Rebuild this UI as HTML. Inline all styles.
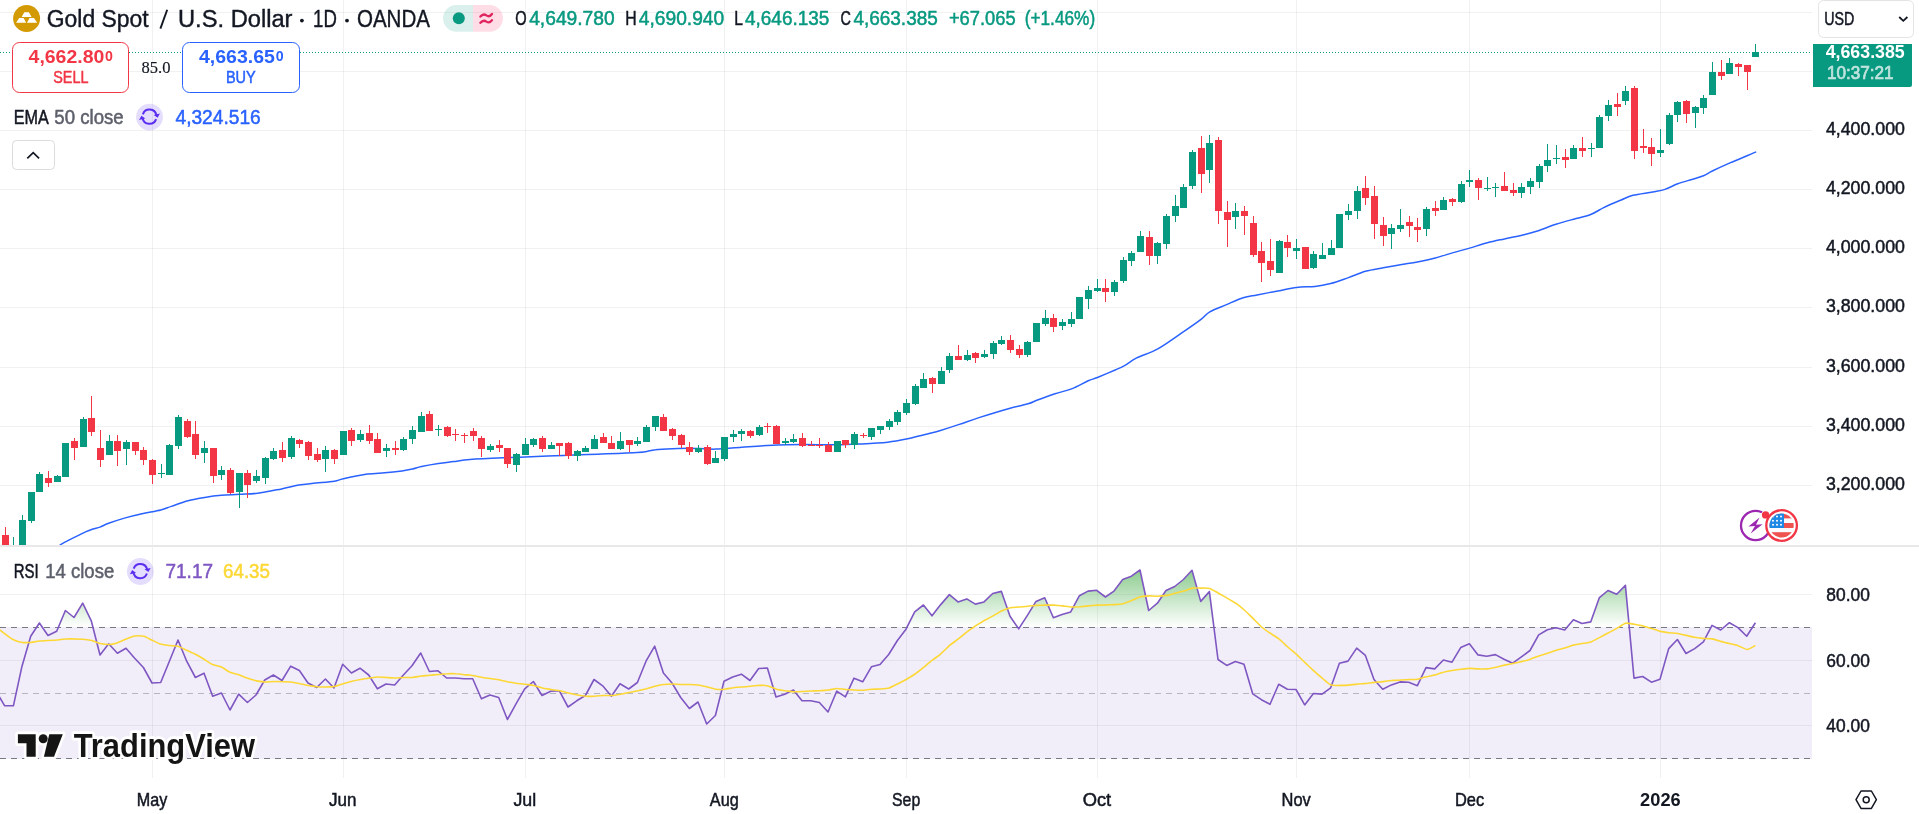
<!DOCTYPE html>
<html><head><meta charset="utf-8"><title>XAUUSD</title><style>html,body{margin:0;padding:0;background:#fff;overflow:hidden}body{width:1919px;height:814px;font-family:"Liberation Sans",sans-serif}</style></head><body><div style="will-change:transform;transform:translateZ(0)">
<svg width="1919" height="814" viewBox="0 0 1919 814" style="display:block;font-family:'Liberation Sans',sans-serif">
<defs>
<clipPath id="cm"><rect x="0" y="0" width="1812" height="545"/></clipPath>
<clipPath id="cr"><rect x="0" y="547" width="1812" height="231"/></clipPath>
<linearGradient id="gg" gradientUnits="userSpaceOnUse" x1="0" y1="560" x2="0" y2="627"><stop offset="0" stop-color="#4caf50" stop-opacity="0.75"/><stop offset="1" stop-color="#4caf50" stop-opacity="0"/></linearGradient>
<clipPath id="c70"><rect x="0" y="547" width="1812" height="80"/></clipPath>
</defs>
<rect width="1919" height="814" fill="#fff"/>
<g shape-rendering="crispEdges" fill="#000" fill-opacity="0.055">
<rect x="152" y="0" width="1" height="545"/>
<rect x="152" y="547" width="1" height="231"/>
<rect x="343" y="0" width="1" height="545"/>
<rect x="343" y="547" width="1" height="231"/>
<rect x="525" y="0" width="1" height="545"/>
<rect x="525" y="547" width="1" height="231"/>
<rect x="724" y="0" width="1" height="545"/>
<rect x="724" y="547" width="1" height="231"/>
<rect x="906" y="0" width="1" height="545"/>
<rect x="906" y="547" width="1" height="231"/>
<rect x="1097" y="0" width="1" height="545"/>
<rect x="1097" y="547" width="1" height="231"/>
<rect x="1296" y="0" width="1" height="545"/>
<rect x="1296" y="547" width="1" height="231"/>
<rect x="1469" y="0" width="1" height="545"/>
<rect x="1469" y="547" width="1" height="231"/>
<rect x="1660" y="0" width="1" height="545"/>
<rect x="1660" y="547" width="1" height="231"/>
<rect x="0" y="12" width="1812" height="1"/>
<rect x="0" y="71" width="1812" height="1"/>
<rect x="0" y="130" width="1812" height="1"/>
<rect x="0" y="189" width="1812" height="1"/>
<rect x="0" y="248" width="1812" height="1"/>
<rect x="0" y="307" width="1812" height="1"/>
<rect x="0" y="367" width="1812" height="1"/>
<rect x="0" y="426" width="1812" height="1"/>
<rect x="0" y="485" width="1812" height="1"/>
<rect x="0" y="594" width="1812" height="1"/>
<rect x="0" y="660" width="1812" height="1"/>
<rect x="0" y="725" width="1812" height="1"/>
</g>
<rect x="0" y="627" width="1812" height="131.5" fill="#7e57c2" fill-opacity="0.1" shape-rendering="crispEdges"/>
<g shape-rendering="crispEdges" stroke-dasharray="5.5 5.5">
<line x1="0" y1="627.5" x2="1812" y2="627.5" stroke="#787b86" stroke-width="1"/>
<line x1="0" y1="693.5" x2="1812" y2="693.5" stroke="#787b86" stroke-opacity="0.5" stroke-width="1"/>
<line x1="0" y1="758.5" x2="1812" y2="758.5" stroke="#787b86" stroke-width="1"/>
</g>
<line x1="0" y1="52.5" x2="1812" y2="52.5" stroke="#089981" stroke-width="1" stroke-dasharray="1 2" shape-rendering="crispEdges"/>
<path clip-path="url(#cm)" d="M60.2 544.8C61.6 544.0 65.9 541.7 68.8 540.2C71.7 538.7 74.5 537.3 77.4 535.9C80.3 534.5 83.4 532.8 86.0 531.6C88.6 530.5 90.6 529.8 92.9 529.0C95.2 528.2 97.4 528.1 100.0 527.1C102.6 526.1 104.4 524.8 108.6 523.3C112.8 521.8 119.7 519.5 125.3 517.9C130.9 516.3 136.1 515.0 142.0 513.7C147.9 512.4 155.9 511.1 160.8 509.9C165.7 508.7 166.8 507.9 171.3 506.4C175.8 504.9 182.4 502.2 188.0 500.7C193.6 499.2 199.1 498.3 204.7 497.4C210.3 496.5 215.6 495.8 221.4 495.3C227.2 494.8 233.4 494.7 239.4 494.3C245.4 493.9 250.5 494.1 257.5 493.2C264.5 492.3 274.7 490.2 281.6 488.9C288.5 487.5 293.1 486.1 298.8 485.1C304.5 484.1 310.1 483.8 316.0 483.1C321.9 482.5 329.8 481.9 334.4 481.2C339.0 480.5 337.9 480.0 343.4 478.8C348.9 477.6 360.7 475.1 367.6 474.1C374.5 473.1 379.1 473.3 384.8 472.8C390.5 472.3 397.4 471.5 402.0 470.9C406.6 470.3 409.1 469.8 412.4 469.1C415.6 468.4 417.1 467.5 421.5 466.6C425.9 465.7 433.1 464.4 438.5 463.6C443.9 462.8 448.4 462.3 453.7 461.6C458.9 460.9 461.8 460.1 470.0 459.5C478.2 458.9 493.8 458.2 503.0 457.8C512.2 457.4 515.4 457.5 525.4 457.1C535.4 456.7 551.2 455.9 563.2 455.4C575.2 454.9 585.2 454.7 597.6 454.2C610.0 453.7 629.2 453.0 637.4 452.5C645.5 452.0 643.5 451.9 646.5 451.4C649.5 450.9 651.1 450.1 655.4 449.7C659.7 449.2 666.8 448.9 672.5 448.7C678.2 448.5 684.9 448.3 689.5 448.3C694.1 448.3 695.6 448.5 700.0 448.6C704.4 448.7 708.9 449.3 715.8 449.1C722.7 448.9 733.0 447.8 741.6 447.2C750.2 446.6 757.4 445.9 767.4 445.5C777.4 445.1 790.3 444.6 801.8 444.5C813.3 444.4 826.2 444.9 836.2 444.8C846.2 444.7 853.4 444.3 862.0 443.9C870.6 443.5 880.4 443.0 887.8 442.2C895.2 441.4 900.6 440.3 906.4 439.1C912.1 437.9 918.4 436.2 922.3 435.2C926.2 434.2 927.1 434.1 930.0 433.3C932.9 432.6 934.8 432.2 939.7 430.7C944.6 429.2 952.8 426.6 959.3 424.4C965.8 422.2 970.8 420.2 979.0 417.6C987.2 415.0 1000.2 411.0 1008.4 408.7C1016.6 406.4 1023.2 405.2 1028.1 403.8C1032.9 402.4 1033.0 401.7 1037.5 400.0C1042.0 398.3 1049.3 395.6 1055.0 393.7C1060.7 391.8 1066.1 391.0 1071.6 388.9C1077.1 386.8 1083.9 382.7 1088.2 380.8C1092.5 378.9 1092.8 379.4 1097.4 377.5C1102.0 375.6 1111.2 371.7 1115.8 369.7C1120.4 367.7 1121.6 367.2 1125.0 365.3C1128.4 363.4 1130.7 360.9 1136.2 358.2C1141.7 355.4 1150.3 353.0 1157.8 348.8C1165.3 344.6 1174.2 338.0 1181.4 333.1C1188.6 328.2 1196.3 322.9 1201.0 319.3C1205.7 315.8 1205.5 314.2 1209.8 311.8C1214.0 309.4 1220.9 307.0 1226.5 304.6C1232.1 302.2 1238.1 299.3 1243.2 297.7C1248.3 296.1 1251.2 296.0 1257.0 294.9C1262.8 293.8 1271.2 292.2 1277.8 291.0C1284.4 289.8 1290.2 288.1 1296.4 287.4C1302.6 286.6 1309.3 287.1 1315.0 286.5C1320.7 285.9 1325.1 285.0 1330.7 283.5C1336.3 282.0 1342.6 279.6 1348.4 277.6C1354.2 275.6 1359.7 272.9 1365.5 271.3C1371.3 269.7 1377.4 268.9 1383.2 267.8C1389.0 266.7 1394.6 265.7 1400.3 264.7C1406.0 263.7 1411.6 263.0 1417.4 261.9C1423.2 260.8 1429.5 259.5 1435.3 258.0C1441.1 256.5 1446.7 254.6 1452.4 252.9C1458.1 251.2 1463.8 249.8 1469.6 248.1C1475.4 246.4 1481.6 244.3 1487.4 242.8C1493.2 241.3 1498.1 240.3 1504.4 238.9C1510.7 237.5 1519.3 235.8 1525.0 234.4C1530.7 233.0 1533.1 232.4 1538.3 230.7C1543.5 229.0 1550.1 226.2 1556.0 224.3C1561.9 222.4 1567.9 220.8 1573.7 219.2C1579.5 217.6 1585.8 216.4 1590.7 214.5C1595.6 212.6 1599.7 209.6 1603.2 207.8C1606.8 206.0 1609.0 205.0 1612.0 203.7C1615.0 202.4 1617.7 201.4 1621.2 200.0C1624.7 198.6 1627.8 196.6 1633.0 195.3C1638.2 194.0 1647.3 193.0 1652.6 192.0C1657.9 191.0 1660.8 190.8 1665.0 189.4C1669.2 188.0 1673.2 185.5 1677.7 183.8C1682.2 182.2 1687.4 180.8 1691.7 179.5C1696.0 178.2 1700.1 177.1 1703.5 175.7C1706.9 174.3 1707.9 173.1 1712.3 171.0C1716.7 168.9 1724.1 165.5 1730.0 162.9C1735.9 160.3 1743.4 157.3 1747.7 155.5C1752.0 153.7 1754.3 152.7 1755.6 152.1" fill="none" stroke="#2962ff" stroke-width="1.5" stroke-linejoin="round" stroke-linecap="round"/>
<g clip-path="url(#cm)" shape-rendering="crispEdges">
<rect x="5" y="527" width="1" height="33" fill="#f23645"/>
<rect x="2" y="535" width="7" height="25" fill="#f23645"/>
<rect x="13" y="537" width="1" height="33" fill="#089981"/>
<rect x="10" y="552" width="7" height="18" fill="#089981"/>
<rect x="22" y="515" width="1" height="45" fill="#089981"/>
<rect x="19" y="520" width="7" height="40" fill="#089981"/>
<rect x="31" y="492" width="1" height="31" fill="#089981"/>
<rect x="28" y="492" width="7" height="29" fill="#089981"/>
<rect x="39" y="472" width="1" height="20" fill="#089981"/>
<rect x="36" y="474" width="7" height="18" fill="#089981"/>
<rect x="48" y="471" width="1" height="16" fill="#f23645"/>
<rect x="45" y="478" width="7" height="5" fill="#f23645"/>
<rect x="57" y="475" width="1" height="7" fill="#089981"/>
<rect x="54" y="476" width="7" height="6" fill="#089981"/>
<rect x="65" y="443" width="1" height="34" fill="#089981"/>
<rect x="62" y="443" width="7" height="34" fill="#089981"/>
<rect x="74" y="438" width="1" height="22" fill="#f23645"/>
<rect x="71" y="441" width="7" height="7" fill="#f23645"/>
<rect x="83" y="417" width="1" height="30" fill="#089981"/>
<rect x="80" y="419" width="7" height="28" fill="#089981"/>
<rect x="91" y="396" width="1" height="40" fill="#f23645"/>
<rect x="88" y="418" width="7" height="14" fill="#f23645"/>
<rect x="100" y="430" width="1" height="37" fill="#f23645"/>
<rect x="97" y="448" width="7" height="12" fill="#f23645"/>
<rect x="109" y="435" width="1" height="20" fill="#089981"/>
<rect x="106" y="441" width="7" height="14" fill="#089981"/>
<rect x="117" y="435" width="1" height="31" fill="#f23645"/>
<rect x="114" y="441" width="7" height="10" fill="#f23645"/>
<rect x="126" y="440" width="1" height="25" fill="#089981"/>
<rect x="123" y="442" width="7" height="7" fill="#089981"/>
<rect x="135" y="442" width="1" height="13" fill="#f23645"/>
<rect x="132" y="442" width="7" height="9" fill="#f23645"/>
<rect x="143" y="447" width="1" height="18" fill="#f23645"/>
<rect x="140" y="450" width="7" height="10" fill="#f23645"/>
<rect x="152" y="459" width="1" height="25" fill="#f23645"/>
<rect x="149" y="460" width="7" height="15" fill="#f23645"/>
<rect x="161" y="464" width="1" height="14" fill="#089981"/>
<rect x="158" y="473" width="7" height="1" fill="#089981"/>
<rect x="169" y="444" width="1" height="31" fill="#089981"/>
<rect x="166" y="445" width="7" height="30" fill="#089981"/>
<rect x="178" y="415" width="1" height="34" fill="#089981"/>
<rect x="175" y="417" width="7" height="29" fill="#089981"/>
<rect x="187" y="419" width="1" height="19" fill="#f23645"/>
<rect x="184" y="421" width="7" height="16" fill="#f23645"/>
<rect x="195" y="421" width="1" height="38" fill="#f23645"/>
<rect x="192" y="434" width="7" height="21" fill="#f23645"/>
<rect x="204" y="441" width="1" height="22" fill="#089981"/>
<rect x="201" y="448" width="7" height="5" fill="#089981"/>
<rect x="213" y="448" width="1" height="35" fill="#f23645"/>
<rect x="210" y="448" width="7" height="28" fill="#f23645"/>
<rect x="221" y="466" width="1" height="14" fill="#089981"/>
<rect x="218" y="470" width="7" height="5" fill="#089981"/>
<rect x="230" y="468" width="1" height="26" fill="#f23645"/>
<rect x="227" y="470" width="7" height="23" fill="#f23645"/>
<rect x="239" y="473" width="1" height="35" fill="#089981"/>
<rect x="236" y="473" width="7" height="19" fill="#089981"/>
<rect x="247" y="470" width="1" height="28" fill="#f23645"/>
<rect x="244" y="473" width="7" height="12" fill="#f23645"/>
<rect x="256" y="470" width="1" height="13" fill="#089981"/>
<rect x="253" y="476" width="7" height="5" fill="#089981"/>
<rect x="265" y="457" width="1" height="27" fill="#089981"/>
<rect x="262" y="458" width="7" height="20" fill="#089981"/>
<rect x="273" y="448" width="1" height="12" fill="#089981"/>
<rect x="270" y="451" width="7" height="8" fill="#089981"/>
<rect x="282" y="442" width="1" height="20" fill="#f23645"/>
<rect x="279" y="450" width="7" height="8" fill="#f23645"/>
<rect x="291" y="436" width="1" height="23" fill="#089981"/>
<rect x="288" y="438" width="7" height="19" fill="#089981"/>
<rect x="299" y="439" width="1" height="9" fill="#f23645"/>
<rect x="296" y="440" width="7" height="4" fill="#f23645"/>
<rect x="308" y="441" width="1" height="19" fill="#f23645"/>
<rect x="305" y="442" width="7" height="14" fill="#f23645"/>
<rect x="317" y="448" width="1" height="14" fill="#f23645"/>
<rect x="314" y="454" width="7" height="6" fill="#f23645"/>
<rect x="325" y="446" width="1" height="26" fill="#089981"/>
<rect x="322" y="450" width="7" height="9" fill="#089981"/>
<rect x="334" y="449" width="1" height="15" fill="#f23645"/>
<rect x="331" y="450" width="7" height="9" fill="#f23645"/>
<rect x="343" y="431" width="1" height="24" fill="#089981"/>
<rect x="340" y="431" width="7" height="24" fill="#089981"/>
<rect x="351" y="428" width="1" height="18" fill="#f23645"/>
<rect x="348" y="430" width="7" height="11" fill="#f23645"/>
<rect x="360" y="430" width="1" height="12" fill="#089981"/>
<rect x="357" y="434" width="7" height="6" fill="#089981"/>
<rect x="369" y="425" width="1" height="19" fill="#f23645"/>
<rect x="366" y="433" width="7" height="8" fill="#f23645"/>
<rect x="377" y="433" width="1" height="20" fill="#f23645"/>
<rect x="374" y="439" width="7" height="14" fill="#f23645"/>
<rect x="386" y="444" width="1" height="13" fill="#089981"/>
<rect x="383" y="448" width="7" height="3" fill="#089981"/>
<rect x="395" y="441" width="1" height="14" fill="#f23645"/>
<rect x="392" y="448" width="7" height="2" fill="#f23645"/>
<rect x="403" y="437" width="1" height="14" fill="#089981"/>
<rect x="400" y="439" width="7" height="11" fill="#089981"/>
<rect x="412" y="426" width="1" height="18" fill="#089981"/>
<rect x="409" y="430" width="7" height="9" fill="#089981"/>
<rect x="421" y="412" width="1" height="20" fill="#089981"/>
<rect x="418" y="416" width="7" height="16" fill="#089981"/>
<rect x="429" y="411" width="1" height="20" fill="#f23645"/>
<rect x="426" y="414" width="7" height="17" fill="#f23645"/>
<rect x="438" y="425" width="1" height="11" fill="#089981"/>
<rect x="435" y="429" width="7" height="1" fill="#089981"/>
<rect x="447" y="426" width="1" height="11" fill="#f23645"/>
<rect x="444" y="427" width="7" height="9" fill="#f23645"/>
<rect x="455" y="429" width="1" height="12" fill="#f23645"/>
<rect x="452" y="434" width="7" height="1" fill="#f23645"/>
<rect x="464" y="433" width="1" height="10" fill="#f23645"/>
<rect x="461" y="435" width="7" height="1" fill="#f23645"/>
<rect x="473" y="428" width="1" height="13" fill="#f23645"/>
<rect x="470" y="431" width="7" height="5" fill="#f23645"/>
<rect x="481" y="436" width="1" height="21" fill="#f23645"/>
<rect x="478" y="438" width="7" height="11" fill="#f23645"/>
<rect x="490" y="444" width="1" height="8" fill="#089981"/>
<rect x="487" y="446" width="7" height="4" fill="#089981"/>
<rect x="499" y="440" width="1" height="12" fill="#f23645"/>
<rect x="496" y="445" width="7" height="3" fill="#f23645"/>
<rect x="507" y="448" width="1" height="20" fill="#f23645"/>
<rect x="504" y="448" width="7" height="16" fill="#f23645"/>
<rect x="516" y="453" width="1" height="19" fill="#089981"/>
<rect x="513" y="454" width="7" height="11" fill="#089981"/>
<rect x="525" y="438" width="1" height="17" fill="#089981"/>
<rect x="522" y="444" width="7" height="11" fill="#089981"/>
<rect x="533" y="438" width="1" height="9" fill="#089981"/>
<rect x="530" y="439" width="7" height="6" fill="#089981"/>
<rect x="542" y="436" width="1" height="16" fill="#f23645"/>
<rect x="539" y="438" width="7" height="11" fill="#f23645"/>
<rect x="551" y="442" width="1" height="7" fill="#089981"/>
<rect x="548" y="445" width="7" height="4" fill="#089981"/>
<rect x="559" y="443" width="1" height="13" fill="#f23645"/>
<rect x="556" y="443" width="7" height="3" fill="#f23645"/>
<rect x="568" y="442" width="1" height="17" fill="#f23645"/>
<rect x="565" y="443" width="7" height="13" fill="#f23645"/>
<rect x="577" y="450" width="1" height="11" fill="#089981"/>
<rect x="574" y="451" width="7" height="5" fill="#089981"/>
<rect x="585" y="446" width="1" height="6" fill="#089981"/>
<rect x="582" y="448" width="7" height="4" fill="#089981"/>
<rect x="594" y="435" width="1" height="14" fill="#089981"/>
<rect x="591" y="439" width="7" height="10" fill="#089981"/>
<rect x="603" y="433" width="1" height="10" fill="#f23645"/>
<rect x="600" y="437" width="7" height="6" fill="#f23645"/>
<rect x="611" y="436" width="1" height="13" fill="#f23645"/>
<rect x="608" y="443" width="7" height="6" fill="#f23645"/>
<rect x="620" y="432" width="1" height="18" fill="#089981"/>
<rect x="617" y="441" width="7" height="8" fill="#089981"/>
<rect x="629" y="440" width="1" height="12" fill="#f23645"/>
<rect x="626" y="440" width="7" height="5" fill="#f23645"/>
<rect x="637" y="437" width="1" height="9" fill="#089981"/>
<rect x="634" y="441" width="7" height="3" fill="#089981"/>
<rect x="646" y="425" width="1" height="17" fill="#089981"/>
<rect x="643" y="427" width="7" height="15" fill="#089981"/>
<rect x="655" y="416" width="1" height="15" fill="#089981"/>
<rect x="652" y="416" width="7" height="11" fill="#089981"/>
<rect x="663" y="414" width="1" height="17" fill="#f23645"/>
<rect x="660" y="417" width="7" height="14" fill="#f23645"/>
<rect x="672" y="428" width="1" height="12" fill="#f23645"/>
<rect x="669" y="429" width="7" height="7" fill="#f23645"/>
<rect x="681" y="434" width="1" height="14" fill="#f23645"/>
<rect x="678" y="435" width="7" height="10" fill="#f23645"/>
<rect x="689" y="442" width="1" height="13" fill="#f23645"/>
<rect x="686" y="447" width="7" height="5" fill="#f23645"/>
<rect x="698" y="445" width="1" height="8" fill="#089981"/>
<rect x="695" y="448" width="7" height="4" fill="#089981"/>
<rect x="707" y="445" width="1" height="20" fill="#f23645"/>
<rect x="704" y="447" width="7" height="17" fill="#f23645"/>
<rect x="715" y="451" width="1" height="12" fill="#089981"/>
<rect x="712" y="458" width="7" height="5" fill="#089981"/>
<rect x="724" y="437" width="1" height="24" fill="#089981"/>
<rect x="721" y="437" width="7" height="22" fill="#089981"/>
<rect x="733" y="430" width="1" height="12" fill="#089981"/>
<rect x="730" y="434" width="7" height="3" fill="#089981"/>
<rect x="741" y="429" width="1" height="12" fill="#089981"/>
<rect x="738" y="431" width="7" height="3" fill="#089981"/>
<rect x="750" y="430" width="1" height="8" fill="#f23645"/>
<rect x="747" y="431" width="7" height="5" fill="#f23645"/>
<rect x="759" y="425" width="1" height="11" fill="#089981"/>
<rect x="756" y="427" width="7" height="8" fill="#089981"/>
<rect x="767" y="423" width="1" height="10" fill="#f23645"/>
<rect x="764" y="426" width="7" height="1" fill="#f23645"/>
<rect x="776" y="425" width="1" height="19" fill="#f23645"/>
<rect x="773" y="426" width="7" height="18" fill="#f23645"/>
<rect x="785" y="438" width="1" height="7" fill="#089981"/>
<rect x="782" y="441" width="7" height="2" fill="#089981"/>
<rect x="793" y="434" width="1" height="9" fill="#089981"/>
<rect x="790" y="439" width="7" height="3" fill="#089981"/>
<rect x="802" y="433" width="1" height="14" fill="#f23645"/>
<rect x="799" y="438" width="7" height="8" fill="#f23645"/>
<rect x="811" y="441" width="1" height="5" fill="#f23645"/>
<rect x="808" y="445" width="7" height="1" fill="#f23645"/>
<rect x="819" y="438" width="1" height="10" fill="#f23645"/>
<rect x="816" y="445" width="7" height="1" fill="#f23645"/>
<rect x="828" y="442" width="1" height="10" fill="#f23645"/>
<rect x="825" y="445" width="7" height="7" fill="#f23645"/>
<rect x="837" y="441" width="1" height="11" fill="#089981"/>
<rect x="834" y="441" width="7" height="11" fill="#089981"/>
<rect x="845" y="440" width="1" height="8" fill="#f23645"/>
<rect x="842" y="440" width="7" height="5" fill="#f23645"/>
<rect x="854" y="432" width="1" height="17" fill="#089981"/>
<rect x="851" y="434" width="7" height="11" fill="#089981"/>
<rect x="863" y="433" width="1" height="5" fill="#f23645"/>
<rect x="860" y="435" width="7" height="1" fill="#f23645"/>
<rect x="871" y="428" width="1" height="12" fill="#089981"/>
<rect x="868" y="428" width="7" height="9" fill="#089981"/>
<rect x="880" y="426" width="1" height="8" fill="#089981"/>
<rect x="877" y="426" width="7" height="4" fill="#089981"/>
<rect x="889" y="419" width="1" height="11" fill="#089981"/>
<rect x="886" y="421" width="7" height="6" fill="#089981"/>
<rect x="897" y="410" width="1" height="15" fill="#089981"/>
<rect x="894" y="412" width="7" height="10" fill="#089981"/>
<rect x="906" y="399" width="1" height="16" fill="#089981"/>
<rect x="903" y="403" width="7" height="10" fill="#089981"/>
<rect x="915" y="384" width="1" height="21" fill="#089981"/>
<rect x="912" y="386" width="7" height="18" fill="#089981"/>
<rect x="923" y="373" width="1" height="15" fill="#089981"/>
<rect x="920" y="379" width="7" height="9" fill="#089981"/>
<rect x="932" y="377" width="1" height="16" fill="#f23645"/>
<rect x="929" y="378" width="7" height="6" fill="#f23645"/>
<rect x="941" y="367" width="1" height="17" fill="#089981"/>
<rect x="938" y="371" width="7" height="13" fill="#089981"/>
<rect x="949" y="353" width="1" height="20" fill="#089981"/>
<rect x="946" y="356" width="7" height="14" fill="#089981"/>
<rect x="958" y="345" width="1" height="15" fill="#f23645"/>
<rect x="955" y="356" width="7" height="4" fill="#f23645"/>
<rect x="967" y="350" width="1" height="11" fill="#089981"/>
<rect x="964" y="355" width="7" height="5" fill="#089981"/>
<rect x="975" y="352" width="1" height="11" fill="#f23645"/>
<rect x="972" y="353" width="7" height="5" fill="#f23645"/>
<rect x="984" y="350" width="1" height="8" fill="#089981"/>
<rect x="981" y="354" width="7" height="3" fill="#089981"/>
<rect x="993" y="341" width="1" height="18" fill="#089981"/>
<rect x="990" y="343" width="7" height="11" fill="#089981"/>
<rect x="1001" y="336" width="1" height="9" fill="#089981"/>
<rect x="998" y="340" width="7" height="4" fill="#089981"/>
<rect x="1010" y="335" width="1" height="18" fill="#f23645"/>
<rect x="1007" y="340" width="7" height="10" fill="#f23645"/>
<rect x="1019" y="345" width="1" height="13" fill="#f23645"/>
<rect x="1016" y="349" width="7" height="6" fill="#f23645"/>
<rect x="1027" y="341" width="1" height="16" fill="#089981"/>
<rect x="1024" y="342" width="7" height="13" fill="#089981"/>
<rect x="1036" y="323" width="1" height="19" fill="#089981"/>
<rect x="1033" y="323" width="7" height="19" fill="#089981"/>
<rect x="1045" y="310" width="1" height="16" fill="#089981"/>
<rect x="1042" y="318" width="7" height="6" fill="#089981"/>
<rect x="1053" y="314" width="1" height="18" fill="#f23645"/>
<rect x="1050" y="318" width="7" height="9" fill="#f23645"/>
<rect x="1062" y="319" width="1" height="11" fill="#089981"/>
<rect x="1059" y="322" width="7" height="4" fill="#089981"/>
<rect x="1071" y="312" width="1" height="15" fill="#089981"/>
<rect x="1068" y="319" width="7" height="5" fill="#089981"/>
<rect x="1079" y="297" width="1" height="22" fill="#089981"/>
<rect x="1076" y="297" width="7" height="22" fill="#089981"/>
<rect x="1088" y="286" width="1" height="23" fill="#089981"/>
<rect x="1085" y="290" width="7" height="9" fill="#089981"/>
<rect x="1097" y="279" width="1" height="13" fill="#089981"/>
<rect x="1094" y="288" width="7" height="3" fill="#089981"/>
<rect x="1105" y="279" width="1" height="23" fill="#f23645"/>
<rect x="1102" y="288" width="7" height="4" fill="#f23645"/>
<rect x="1114" y="280" width="1" height="16" fill="#089981"/>
<rect x="1111" y="282" width="7" height="10" fill="#089981"/>
<rect x="1123" y="257" width="1" height="26" fill="#089981"/>
<rect x="1120" y="260" width="7" height="21" fill="#089981"/>
<rect x="1131" y="251" width="1" height="15" fill="#089981"/>
<rect x="1128" y="253" width="7" height="8" fill="#089981"/>
<rect x="1140" y="231" width="1" height="21" fill="#089981"/>
<rect x="1137" y="236" width="7" height="16" fill="#089981"/>
<rect x="1149" y="231" width="1" height="34" fill="#f23645"/>
<rect x="1146" y="237" width="7" height="19" fill="#f23645"/>
<rect x="1157" y="242" width="1" height="22" fill="#089981"/>
<rect x="1154" y="243" width="7" height="13" fill="#089981"/>
<rect x="1166" y="214" width="1" height="35" fill="#089981"/>
<rect x="1163" y="216" width="7" height="28" fill="#089981"/>
<rect x="1175" y="195" width="1" height="27" fill="#089981"/>
<rect x="1172" y="206" width="7" height="10" fill="#089981"/>
<rect x="1183" y="184" width="1" height="24" fill="#089981"/>
<rect x="1180" y="187" width="7" height="21" fill="#089981"/>
<rect x="1192" y="150" width="1" height="39" fill="#089981"/>
<rect x="1189" y="152" width="7" height="34" fill="#089981"/>
<rect x="1201" y="136" width="1" height="57" fill="#f23645"/>
<rect x="1198" y="148" width="7" height="26" fill="#f23645"/>
<rect x="1209" y="135" width="1" height="48" fill="#089981"/>
<rect x="1206" y="143" width="7" height="27" fill="#089981"/>
<rect x="1218" y="137" width="1" height="87" fill="#f23645"/>
<rect x="1215" y="140" width="7" height="71" fill="#f23645"/>
<rect x="1227" y="201" width="1" height="46" fill="#f23645"/>
<rect x="1224" y="212" width="7" height="8" fill="#f23645"/>
<rect x="1235" y="203" width="1" height="26" fill="#089981"/>
<rect x="1232" y="211" width="7" height="6" fill="#089981"/>
<rect x="1244" y="206" width="1" height="29" fill="#f23645"/>
<rect x="1241" y="211" width="7" height="5" fill="#f23645"/>
<rect x="1253" y="216" width="1" height="41" fill="#f23645"/>
<rect x="1250" y="223" width="7" height="32" fill="#f23645"/>
<rect x="1261" y="242" width="1" height="40" fill="#f23645"/>
<rect x="1258" y="251" width="7" height="12" fill="#f23645"/>
<rect x="1270" y="239" width="1" height="37" fill="#f23645"/>
<rect x="1267" y="261" width="7" height="9" fill="#f23645"/>
<rect x="1279" y="240" width="1" height="33" fill="#089981"/>
<rect x="1276" y="241" width="7" height="32" fill="#089981"/>
<rect x="1287" y="235" width="1" height="22" fill="#f23645"/>
<rect x="1284" y="242" width="7" height="6" fill="#f23645"/>
<rect x="1296" y="239" width="1" height="20" fill="#089981"/>
<rect x="1293" y="248" width="7" height="3" fill="#089981"/>
<rect x="1305" y="247" width="1" height="22" fill="#f23645"/>
<rect x="1302" y="247" width="7" height="22" fill="#f23645"/>
<rect x="1313" y="251" width="1" height="18" fill="#089981"/>
<rect x="1310" y="254" width="7" height="14" fill="#089981"/>
<rect x="1322" y="243" width="1" height="16" fill="#089981"/>
<rect x="1319" y="255" width="7" height="4" fill="#089981"/>
<rect x="1331" y="240" width="1" height="15" fill="#089981"/>
<rect x="1328" y="248" width="7" height="7" fill="#089981"/>
<rect x="1339" y="214" width="1" height="34" fill="#089981"/>
<rect x="1336" y="214" width="7" height="34" fill="#089981"/>
<rect x="1348" y="204" width="1" height="16" fill="#089981"/>
<rect x="1345" y="211" width="7" height="4" fill="#089981"/>
<rect x="1357" y="186" width="1" height="33" fill="#089981"/>
<rect x="1354" y="191" width="7" height="20" fill="#089981"/>
<rect x="1365" y="176" width="1" height="29" fill="#f23645"/>
<rect x="1362" y="188" width="7" height="10" fill="#f23645"/>
<rect x="1374" y="186" width="1" height="53" fill="#f23645"/>
<rect x="1371" y="196" width="7" height="28" fill="#f23645"/>
<rect x="1383" y="217" width="1" height="29" fill="#f23645"/>
<rect x="1380" y="225" width="7" height="11" fill="#f23645"/>
<rect x="1391" y="224" width="1" height="25" fill="#089981"/>
<rect x="1388" y="228" width="7" height="6" fill="#089981"/>
<rect x="1400" y="209" width="1" height="23" fill="#089981"/>
<rect x="1397" y="225" width="7" height="4" fill="#089981"/>
<rect x="1409" y="216" width="1" height="21" fill="#f23645"/>
<rect x="1406" y="222" width="7" height="4" fill="#f23645"/>
<rect x="1417" y="218" width="1" height="24" fill="#f23645"/>
<rect x="1414" y="227" width="7" height="3" fill="#f23645"/>
<rect x="1426" y="207" width="1" height="29" fill="#089981"/>
<rect x="1423" y="209" width="7" height="20" fill="#089981"/>
<rect x="1435" y="201" width="1" height="15" fill="#f23645"/>
<rect x="1432" y="208" width="7" height="3" fill="#f23645"/>
<rect x="1443" y="197" width="1" height="13" fill="#089981"/>
<rect x="1440" y="200" width="7" height="10" fill="#089981"/>
<rect x="1452" y="198" width="1" height="8" fill="#f23645"/>
<rect x="1449" y="199" width="7" height="3" fill="#f23645"/>
<rect x="1461" y="181" width="1" height="22" fill="#089981"/>
<rect x="1458" y="184" width="7" height="18" fill="#089981"/>
<rect x="1469" y="170" width="1" height="17" fill="#089981"/>
<rect x="1466" y="180" width="7" height="2" fill="#089981"/>
<rect x="1478" y="178" width="1" height="22" fill="#f23645"/>
<rect x="1475" y="180" width="7" height="8" fill="#f23645"/>
<rect x="1487" y="177" width="1" height="14" fill="#089981"/>
<rect x="1484" y="188" width="7" height="1" fill="#089981"/>
<rect x="1495" y="183" width="1" height="14" fill="#089981"/>
<rect x="1492" y="187" width="7" height="1" fill="#089981"/>
<rect x="1504" y="172" width="1" height="19" fill="#f23645"/>
<rect x="1501" y="186" width="7" height="5" fill="#f23645"/>
<rect x="1513" y="183" width="1" height="13" fill="#f23645"/>
<rect x="1510" y="190" width="7" height="3" fill="#f23645"/>
<rect x="1521" y="183" width="1" height="15" fill="#089981"/>
<rect x="1518" y="187" width="7" height="6" fill="#089981"/>
<rect x="1530" y="178" width="1" height="16" fill="#089981"/>
<rect x="1527" y="181" width="7" height="6" fill="#089981"/>
<rect x="1539" y="164" width="1" height="24" fill="#089981"/>
<rect x="1536" y="166" width="7" height="16" fill="#089981"/>
<rect x="1547" y="144" width="1" height="28" fill="#089981"/>
<rect x="1544" y="160" width="7" height="6" fill="#089981"/>
<rect x="1556" y="145" width="1" height="19" fill="#089981"/>
<rect x="1553" y="158" width="7" height="1" fill="#089981"/>
<rect x="1565" y="149" width="1" height="19" fill="#f23645"/>
<rect x="1562" y="157" width="7" height="3" fill="#f23645"/>
<rect x="1573" y="145" width="1" height="14" fill="#089981"/>
<rect x="1570" y="148" width="7" height="11" fill="#089981"/>
<rect x="1582" y="137" width="1" height="20" fill="#f23645"/>
<rect x="1579" y="148" width="7" height="3" fill="#f23645"/>
<rect x="1591" y="143" width="1" height="14" fill="#089981"/>
<rect x="1588" y="148" width="7" height="1" fill="#089981"/>
<rect x="1599" y="115" width="1" height="33" fill="#089981"/>
<rect x="1596" y="117" width="7" height="31" fill="#089981"/>
<rect x="1608" y="100" width="1" height="21" fill="#089981"/>
<rect x="1605" y="105" width="7" height="11" fill="#089981"/>
<rect x="1617" y="93" width="1" height="23" fill="#f23645"/>
<rect x="1614" y="104" width="7" height="3" fill="#f23645"/>
<rect x="1625" y="86" width="1" height="19" fill="#089981"/>
<rect x="1622" y="91" width="7" height="10" fill="#089981"/>
<rect x="1634" y="86" width="1" height="73" fill="#f23645"/>
<rect x="1631" y="88" width="7" height="63" fill="#f23645"/>
<rect x="1643" y="129" width="1" height="24" fill="#f23645"/>
<rect x="1640" y="146" width="7" height="2" fill="#f23645"/>
<rect x="1651" y="138" width="1" height="28" fill="#f23645"/>
<rect x="1648" y="147" width="7" height="7" fill="#f23645"/>
<rect x="1660" y="129" width="1" height="28" fill="#089981"/>
<rect x="1657" y="150" width="7" height="3" fill="#089981"/>
<rect x="1669" y="113" width="1" height="32" fill="#089981"/>
<rect x="1666" y="115" width="7" height="29" fill="#089981"/>
<rect x="1677" y="101" width="1" height="21" fill="#089981"/>
<rect x="1674" y="102" width="7" height="13" fill="#089981"/>
<rect x="1686" y="100" width="1" height="23" fill="#f23645"/>
<rect x="1683" y="101" width="7" height="13" fill="#f23645"/>
<rect x="1695" y="106" width="1" height="22" fill="#089981"/>
<rect x="1692" y="107" width="7" height="6" fill="#089981"/>
<rect x="1703" y="95" width="1" height="19" fill="#089981"/>
<rect x="1700" y="98" width="7" height="10" fill="#089981"/>
<rect x="1712" y="62" width="1" height="33" fill="#089981"/>
<rect x="1709" y="72" width="7" height="23" fill="#089981"/>
<rect x="1721" y="60" width="1" height="20" fill="#f23645"/>
<rect x="1718" y="72" width="7" height="4" fill="#f23645"/>
<rect x="1729" y="58" width="1" height="16" fill="#089981"/>
<rect x="1726" y="63" width="7" height="11" fill="#089981"/>
<rect x="1738" y="63" width="1" height="13" fill="#f23645"/>
<rect x="1735" y="64" width="7" height="3" fill="#f23645"/>
<rect x="1747" y="65" width="1" height="25" fill="#f23645"/>
<rect x="1744" y="65" width="7" height="7" fill="#f23645"/>
<rect x="1755" y="44" width="1" height="13" fill="#089981"/>
<rect x="1752" y="52" width="7" height="5" fill="#089981"/>
</g>
<polygon clip-path="url(#c70)" points="-4.0,627 -4.0,691.0 4.7,705.8 13.4,705.8 22.0,666.2 30.7,636.2 39.4,623.0 48.0,635.5 56.7,631.2 65.4,610.5 74.0,617.5 82.7,603.2 91.4,621.2 100.0,655.0 108.7,643.8 117.4,653.2 126.0,648.2 134.7,658.2 143.4,667.5 152.0,683.0 160.7,682.5 169.4,661.2 178.0,640.0 186.7,661.2 195.4,677.5 204.0,673.2 212.7,696.2 221.4,693.0 230.0,710.0 238.7,694.2 247.4,702.5 256.0,695.0 264.7,680.0 273.4,675.0 282.0,680.5 290.7,666.2 299.4,670.5 308.0,683.0 316.7,687.5 325.4,679.0 334.0,688.0 342.7,664.2 351.4,673.0 360.0,668.2 368.7,675.0 377.4,688.8 386.0,684.0 394.7,685.0 403.4,675.0 412.0,665.8 420.7,653.0 429.4,671.5 438.0,670.8 446.7,678.0 455.4,678.0 464.0,678.8 472.7,678.8 481.4,698.8 490.0,695.0 498.7,697.5 507.4,719.5 516.0,703.8 524.7,688.8 533.4,681.5 542.0,695.5 550.7,691.2 559.4,690.8 568.0,707.0 576.7,700.8 585.4,695.5 594.0,679.5 602.7,685.8 611.4,696.2 620.0,683.8 628.7,689.0 637.4,682.5 646.0,661.2 654.7,646.2 663.4,673.0 672.0,683.0 680.7,697.5 689.4,708.5 698.0,702.0 706.7,724.0 715.4,715.5 724.0,681.2 732.7,677.0 741.4,674.2 750.0,680.5 758.7,668.5 767.4,668.0 776.0,697.0 784.7,694.2 793.4,690.0 802.0,700.8 810.7,700.8 819.4,702.5 828.0,712.0 836.7,691.2 845.4,696.8 854.0,678.2 862.7,681.8 871.4,666.8 880.0,664.5 888.7,654.5 897.4,640.5 906.0,629.2 914.7,611.8 923.4,605.0 932.0,615.8 940.7,604.6 949.4,594.6 958.0,601.9 966.7,598.9 975.4,604.1 984.0,601.9 992.7,593.5 1001.4,591.4 1010.0,616.2 1018.7,628.9 1027.4,615.4 1036.0,601.4 1044.7,597.8 1053.4,617.8 1062.0,614.6 1070.7,611.9 1079.4,595.7 1088.0,591.1 1096.7,590.3 1105.4,597.0 1114.0,591.1 1122.7,579.5 1131.4,576.2 1140.0,570.0 1148.7,610.5 1157.4,603.2 1166.0,590.5 1174.7,586.5 1183.4,579.5 1192.0,570.3 1200.7,601.4 1209.4,591.6 1218.0,659.5 1226.7,665.4 1235.4,661.4 1244.0,664.3 1252.7,693.8 1261.4,699.7 1270.0,704.3 1278.7,684.3 1287.4,689.2 1296.0,689.5 1304.7,704.9 1313.4,693.5 1322.0,694.1 1330.7,687.8 1339.4,663.2 1348.0,661.1 1356.7,648.1 1365.4,655.4 1374.0,679.5 1382.7,689.2 1391.4,684.9 1400.0,681.9 1408.7,682.2 1417.4,685.7 1426.0,667.6 1434.7,668.9 1443.4,660.0 1452.0,662.2 1460.7,647.6 1469.4,643.8 1478.0,654.9 1486.7,656.2 1495.4,654.6 1504.0,659.2 1512.7,663.2 1521.4,656.8 1530.0,650.5 1538.7,634.9 1547.4,629.7 1556.0,627.8 1564.7,630.0 1573.4,619.7 1582.0,623.5 1590.7,621.9 1599.4,597.6 1608.0,590.5 1616.7,594.3 1625.4,585.4 1634.0,678.1 1642.7,676.5 1651.4,682.2 1660.0,679.2 1668.7,648.6 1677.4,639.5 1686.0,653.5 1694.7,648.6 1703.4,641.9 1712.0,625.4 1720.7,630.0 1729.4,622.7 1738.0,627.6 1746.7,636.2 1755.4,622.7 1755.4,627" fill="url(#gg)"/>
<polyline clip-path="url(#cr)" points="-4.0,691.0 4.7,705.8 13.4,705.8 22.0,666.2 30.7,636.2 39.4,623.0 48.0,635.5 56.7,631.2 65.4,610.5 74.0,617.5 82.7,603.2 91.4,621.2 100.0,655.0 108.7,643.8 117.4,653.2 126.0,648.2 134.7,658.2 143.4,667.5 152.0,683.0 160.7,682.5 169.4,661.2 178.0,640.0 186.7,661.2 195.4,677.5 204.0,673.2 212.7,696.2 221.4,693.0 230.0,710.0 238.7,694.2 247.4,702.5 256.0,695.0 264.7,680.0 273.4,675.0 282.0,680.5 290.7,666.2 299.4,670.5 308.0,683.0 316.7,687.5 325.4,679.0 334.0,688.0 342.7,664.2 351.4,673.0 360.0,668.2 368.7,675.0 377.4,688.8 386.0,684.0 394.7,685.0 403.4,675.0 412.0,665.8 420.7,653.0 429.4,671.5 438.0,670.8 446.7,678.0 455.4,678.0 464.0,678.8 472.7,678.8 481.4,698.8 490.0,695.0 498.7,697.5 507.4,719.5 516.0,703.8 524.7,688.8 533.4,681.5 542.0,695.5 550.7,691.2 559.4,690.8 568.0,707.0 576.7,700.8 585.4,695.5 594.0,679.5 602.7,685.8 611.4,696.2 620.0,683.8 628.7,689.0 637.4,682.5 646.0,661.2 654.7,646.2 663.4,673.0 672.0,683.0 680.7,697.5 689.4,708.5 698.0,702.0 706.7,724.0 715.4,715.5 724.0,681.2 732.7,677.0 741.4,674.2 750.0,680.5 758.7,668.5 767.4,668.0 776.0,697.0 784.7,694.2 793.4,690.0 802.0,700.8 810.7,700.8 819.4,702.5 828.0,712.0 836.7,691.2 845.4,696.8 854.0,678.2 862.7,681.8 871.4,666.8 880.0,664.5 888.7,654.5 897.4,640.5 906.0,629.2 914.7,611.8 923.4,605.0 932.0,615.8 940.7,604.6 949.4,594.6 958.0,601.9 966.7,598.9 975.4,604.1 984.0,601.9 992.7,593.5 1001.4,591.4 1010.0,616.2 1018.7,628.9 1027.4,615.4 1036.0,601.4 1044.7,597.8 1053.4,617.8 1062.0,614.6 1070.7,611.9 1079.4,595.7 1088.0,591.1 1096.7,590.3 1105.4,597.0 1114.0,591.1 1122.7,579.5 1131.4,576.2 1140.0,570.0 1148.7,610.5 1157.4,603.2 1166.0,590.5 1174.7,586.5 1183.4,579.5 1192.0,570.3 1200.7,601.4 1209.4,591.6 1218.0,659.5 1226.7,665.4 1235.4,661.4 1244.0,664.3 1252.7,693.8 1261.4,699.7 1270.0,704.3 1278.7,684.3 1287.4,689.2 1296.0,689.5 1304.7,704.9 1313.4,693.5 1322.0,694.1 1330.7,687.8 1339.4,663.2 1348.0,661.1 1356.7,648.1 1365.4,655.4 1374.0,679.5 1382.7,689.2 1391.4,684.9 1400.0,681.9 1408.7,682.2 1417.4,685.7 1426.0,667.6 1434.7,668.9 1443.4,660.0 1452.0,662.2 1460.7,647.6 1469.4,643.8 1478.0,654.9 1486.7,656.2 1495.4,654.6 1504.0,659.2 1512.7,663.2 1521.4,656.8 1530.0,650.5 1538.7,634.9 1547.4,629.7 1556.0,627.8 1564.7,630.0 1573.4,619.7 1582.0,623.5 1590.7,621.9 1599.4,597.6 1608.0,590.5 1616.7,594.3 1625.4,585.4 1634.0,678.1 1642.7,676.5 1651.4,682.2 1660.0,679.2 1668.7,648.6 1677.4,639.5 1686.0,653.5 1694.7,648.6 1703.4,641.9 1712.0,625.4 1720.7,630.0 1729.4,622.7 1738.0,627.6 1746.7,636.2 1755.4,622.7" fill="none" stroke="#7e57c2" stroke-width="1.6" stroke-linejoin="round"/>
<path clip-path="url(#cr)" d="M0.0 630.0C1.2 630.9 10.2 638.0 12.5 639.2C14.8 640.5 20.8 642.2 22.5 642.5C24.2 642.8 28.2 642.6 30.0 642.5C31.8 642.4 37.2 641.2 40.0 641.0C42.8 640.8 55.0 640.2 57.5 640.0C60.0 639.8 63.0 639.1 65.5 639.0C68.0 638.9 79.9 639.1 82.5 639.2C85.1 639.4 90.0 640.1 91.8 640.5C93.5 640.9 98.2 643.1 100.0 643.5C101.8 643.9 108.3 644.5 110.0 644.5C111.7 644.5 115.2 643.5 116.8 643.0C118.3 642.5 123.7 640.0 125.5 639.2C127.3 638.5 133.2 636.3 135.0 636.0C136.8 635.7 142.1 635.9 143.8 636.2C145.4 636.6 150.1 639.2 151.8 640.0C153.4 640.8 158.5 643.5 160.2 644.0C162.0 644.5 167.2 645.3 169.0 645.5C170.8 645.7 176.3 645.8 178.0 646.2C179.7 646.7 184.6 649.2 186.2 650.0C187.9 650.8 193.2 653.1 195.0 654.0C196.8 654.9 202.2 658.2 204.0 659.2C205.8 660.3 210.8 663.7 212.5 664.5C214.2 665.3 219.8 666.2 221.5 667.0C223.2 667.8 227.8 671.2 229.5 672.0C231.2 672.8 236.2 673.9 238.0 674.5C239.8 675.1 245.2 677.4 247.0 678.0C248.8 678.6 254.4 680.4 256.2 680.8C258.1 681.1 263.1 681.9 265.0 682.0C266.9 682.1 272.4 681.5 275.0 681.5C277.6 681.5 288.2 681.8 290.8 682.0C293.2 682.2 298.2 683.4 300.0 683.8C301.8 684.1 306.8 685.2 308.5 685.5C310.2 685.8 315.9 686.6 317.5 686.8C319.1 686.9 323.3 687.0 325.0 687.0C326.7 687.0 332.4 686.8 334.2 686.5C336.1 686.2 341.5 684.3 343.2 683.8C345.0 683.2 350.3 681.7 352.0 681.2C353.7 680.8 358.8 679.8 360.5 679.5C362.2 679.2 367.6 678.2 369.2 678.0C370.9 677.8 375.8 677.0 377.5 677.0C379.2 677.0 384.8 677.4 386.5 677.5C388.2 677.6 393.2 678.0 395.0 678.0C396.8 678.0 402.2 677.5 404.0 677.5C405.8 677.5 410.8 677.6 412.5 677.5C414.2 677.4 419.5 676.2 421.2 676.0C423.0 675.8 428.3 675.4 430.0 675.2C431.7 675.1 436.8 674.6 438.5 674.5C440.2 674.4 445.5 673.8 447.2 673.8C449.0 673.7 454.0 673.6 455.8 673.8C457.5 673.9 463.1 674.6 464.5 674.8C465.9 674.9 468.2 674.7 470.0 675.0C471.8 675.3 479.8 677.0 482.5 677.5C485.2 678.0 495.0 679.1 497.5 679.5C500.0 679.9 505.6 681.4 507.5 681.8C509.4 682.1 514.5 683.0 516.2 683.2C518.0 683.5 523.2 684.0 525.0 684.2C526.8 684.5 532.0 685.1 533.8 685.5C535.5 685.9 540.8 687.6 542.5 688.0C544.2 688.4 549.5 689.2 551.2 689.5C553.0 689.8 558.3 690.4 560.0 690.8C561.7 691.1 566.8 692.6 568.5 693.0C570.2 693.4 575.8 694.7 577.5 695.0C579.2 695.3 584.0 696.1 585.8 696.2C587.5 696.4 592.8 696.3 594.5 696.2C596.2 696.2 601.5 695.6 603.2 695.5C605.0 695.4 610.0 695.6 611.8 695.5C613.5 695.4 618.8 694.5 620.5 694.2C622.2 694.0 627.5 692.9 629.2 692.5C631.0 692.1 636.3 691.1 638.0 690.8C639.7 690.4 644.8 689.2 646.5 688.8C648.2 688.3 653.3 686.7 655.0 686.2C656.7 685.8 662.0 684.7 663.8 684.5C665.5 684.3 670.8 684.0 672.5 684.0C674.2 684.0 679.5 684.5 681.2 684.5C683.0 684.5 688.3 684.5 690.0 684.5C691.7 684.5 696.8 684.8 698.5 685.0C700.2 685.2 705.5 686.6 707.2 687.0C709.0 687.4 714.0 689.0 715.8 689.2C717.5 689.5 722.8 689.4 724.5 689.2C726.2 689.1 731.5 688.0 733.2 687.8C735.0 687.5 740.0 687.1 741.8 687.0C743.5 686.9 748.8 686.4 750.5 686.2C752.2 686.1 757.5 685.3 759.2 685.2C761.0 685.2 766.0 685.6 767.8 686.0C769.5 686.4 774.8 688.8 776.5 689.2C778.2 689.7 783.5 690.5 785.2 690.8C787.0 691.0 792.0 691.7 793.8 691.8C795.5 691.8 800.8 691.6 802.5 691.5C804.2 691.4 809.5 691.1 811.2 691.0C813.0 690.9 818.3 690.9 820.0 690.8C821.7 690.6 826.8 690.2 828.5 690.0C830.2 689.8 835.3 688.5 837.0 688.5C838.7 688.5 844.0 689.4 845.8 689.5C847.5 689.6 852.8 689.9 854.5 690.0C856.2 690.1 861.5 690.3 863.2 690.2C865.0 690.2 870.0 689.4 871.8 689.2C873.5 689.1 878.8 689.1 880.5 689.0C882.2 688.9 887.5 688.5 889.2 688.0C891.0 687.5 896.0 684.6 897.8 683.8C899.5 682.9 904.8 680.2 906.5 679.2C908.2 678.3 913.3 675.2 915.0 674.0C916.7 672.8 922.0 668.6 923.8 667.2C925.5 665.9 930.9 661.3 932.5 660.0C934.1 658.7 938.3 656.1 940.0 654.6C941.7 653.1 947.9 647.0 949.7 645.4C951.6 643.8 956.6 640.3 958.4 638.9C960.1 637.6 965.3 633.2 967.0 631.9C968.8 630.6 973.9 626.8 975.7 625.7C977.4 624.5 982.6 621.5 984.3 620.5C986.1 619.6 991.2 616.9 993.0 615.9C994.7 615.0 1000.2 611.6 1001.9 610.8C1003.6 610.0 1008.5 608.2 1010.3 607.8C1012.0 607.5 1017.4 607.2 1019.2 607.0C1020.9 606.9 1026.1 606.4 1027.8 606.2C1029.6 606.1 1034.8 605.5 1036.5 605.4C1038.2 605.3 1043.4 605.2 1045.1 605.1C1046.9 605.1 1052.1 605.1 1053.8 605.1C1055.5 605.2 1060.7 605.8 1062.4 605.9C1064.2 606.1 1069.4 606.9 1071.1 607.0C1072.8 607.1 1078.0 606.9 1079.7 606.8C1081.5 606.6 1086.6 606.1 1088.4 605.9C1090.1 605.8 1095.3 605.2 1097.0 605.1C1098.8 605.0 1103.9 604.9 1105.7 604.9C1107.4 604.8 1112.6 604.7 1114.3 604.6C1116.1 604.5 1121.2 604.2 1123.0 603.8C1124.7 603.4 1129.9 601.2 1131.6 600.5C1133.4 599.8 1138.5 597.2 1140.3 596.8C1142.0 596.3 1147.4 596.0 1149.2 595.9C1150.9 595.9 1156.1 596.3 1157.8 596.2C1159.6 596.2 1164.8 595.7 1166.5 595.4C1168.2 595.1 1173.4 593.7 1175.1 593.2C1176.9 592.8 1182.1 591.6 1183.8 591.1C1185.5 590.6 1190.7 588.4 1192.4 588.1C1194.2 587.8 1199.4 588.1 1201.1 588.1C1202.8 588.1 1208.0 587.9 1209.7 588.4C1211.5 588.9 1216.6 592.3 1218.4 593.2C1220.1 594.2 1225.3 597.1 1227.0 598.1C1228.8 599.1 1233.9 602.1 1235.7 603.2C1237.4 604.4 1242.6 608.5 1244.3 610.0C1246.1 611.5 1251.2 616.7 1253.0 618.4C1254.7 620.1 1259.9 625.5 1261.6 627.0C1263.4 628.5 1268.5 632.1 1270.3 633.2C1272.0 634.4 1277.2 637.5 1278.9 638.9C1280.7 640.3 1286.1 645.5 1287.8 647.0C1289.6 648.6 1294.8 652.8 1296.5 654.3C1298.2 655.9 1303.4 661.1 1305.1 662.7C1306.9 664.4 1312.1 669.2 1313.8 670.8C1315.5 672.4 1320.7 676.9 1322.4 678.4C1324.2 679.8 1329.4 684.4 1331.1 685.1C1332.8 685.8 1338.0 685.4 1339.7 685.4C1341.5 685.4 1346.6 685.3 1348.4 685.1C1350.1 685.0 1355.3 684.2 1357.0 684.1C1358.8 683.9 1363.9 683.7 1365.7 683.5C1367.4 683.4 1372.6 682.6 1374.3 682.4C1376.1 682.2 1381.2 681.8 1383.0 681.6C1384.7 681.4 1390.2 680.7 1391.6 680.5C1393.0 680.4 1395.0 680.4 1396.8 680.3C1398.5 680.2 1406.8 679.6 1408.9 679.5C1411.0 679.4 1415.8 679.5 1417.6 679.2C1419.3 678.9 1424.5 677.2 1426.2 676.8C1427.9 676.3 1433.1 675.3 1434.9 674.9C1436.6 674.4 1441.8 672.6 1443.5 672.2C1445.2 671.7 1450.4 670.8 1452.2 670.5C1453.9 670.2 1459.3 669.4 1461.1 669.2C1462.8 669.0 1468.0 668.4 1469.7 668.4C1471.5 668.4 1476.6 668.9 1478.4 668.9C1480.1 669.0 1485.3 669.1 1487.0 668.9C1488.8 668.8 1493.9 667.7 1495.7 667.3C1497.4 666.9 1502.6 665.5 1504.3 665.1C1506.1 664.8 1511.2 663.9 1513.0 663.5C1514.7 663.2 1519.9 662.1 1521.6 661.6C1523.4 661.2 1528.5 659.8 1530.3 659.2C1532.0 658.6 1537.2 656.5 1538.9 655.9C1540.6 655.4 1545.8 653.8 1547.6 653.2C1549.3 652.7 1554.5 650.8 1556.2 650.3C1557.9 649.8 1563.1 648.6 1564.9 648.1C1566.6 647.6 1571.8 645.6 1573.5 645.1C1575.2 644.7 1580.4 643.8 1582.2 643.5C1583.9 643.2 1589.1 642.5 1590.8 641.9C1592.5 641.3 1597.7 638.5 1599.5 637.6C1601.2 636.7 1606.4 633.9 1608.1 633.0C1609.8 632.1 1615.0 629.4 1616.8 628.4C1618.5 627.4 1623.9 623.6 1625.7 623.2C1627.4 622.8 1632.6 624.1 1634.3 624.3C1636.1 624.6 1641.2 625.5 1643.0 625.9C1644.7 626.4 1649.9 628.1 1651.6 628.6C1653.4 629.2 1658.5 630.9 1660.3 631.4C1662.0 631.8 1667.2 632.5 1668.9 632.7C1670.6 632.9 1675.8 633.2 1677.6 633.5C1679.3 633.8 1684.5 635.0 1686.2 635.4C1687.9 635.8 1693.1 637.0 1694.9 637.3C1696.6 637.6 1701.8 638.2 1703.5 638.4C1705.2 638.5 1710.4 638.6 1712.2 638.9C1713.9 639.2 1719.1 640.9 1720.8 641.4C1722.5 641.8 1727.7 643.1 1729.5 643.5C1731.2 643.9 1736.3 645.1 1738.1 645.7C1739.9 646.3 1745.6 649.5 1747.3 649.5C1749.0 649.4 1754.6 645.8 1755.4 645.4" fill="none" stroke="#fdd835" stroke-width="1.6" stroke-linejoin="round"/>
<rect x="0" y="545" width="1919" height="2" fill="#e8e8e8" shape-rendering="crispEdges"/>
<text x="1825.9" y="135" font-size="18.6" fill="#131722" stroke="#131722" stroke-width="0.5" textLength="79" lengthAdjust="spacingAndGlyphs">4,400.000</text>
<text x="1825.9" y="194" font-size="18.6" fill="#131722" stroke="#131722" stroke-width="0.5" textLength="79" lengthAdjust="spacingAndGlyphs">4,200.000</text>
<text x="1825.9" y="253" font-size="18.6" fill="#131722" stroke="#131722" stroke-width="0.5" textLength="79" lengthAdjust="spacingAndGlyphs">4,000.000</text>
<text x="1825.9" y="312" font-size="18.6" fill="#131722" stroke="#131722" stroke-width="0.5" textLength="79" lengthAdjust="spacingAndGlyphs">3,800.000</text>
<text x="1825.9" y="372" font-size="18.6" fill="#131722" stroke="#131722" stroke-width="0.5" textLength="79" lengthAdjust="spacingAndGlyphs">3,600.000</text>
<text x="1825.9" y="431" font-size="18.6" fill="#131722" stroke="#131722" stroke-width="0.5" textLength="79" lengthAdjust="spacingAndGlyphs">3,400.000</text>
<text x="1825.9" y="490" font-size="18.6" fill="#131722" stroke="#131722" stroke-width="0.5" textLength="79" lengthAdjust="spacingAndGlyphs">3,200.000</text>
<text x="1826.3" y="601" font-size="18.6" fill="#131722" stroke="#131722" stroke-width="0.5" textLength="43.5" lengthAdjust="spacingAndGlyphs">80.00</text>
<text x="1826.3" y="667" font-size="18.6" fill="#131722" stroke="#131722" stroke-width="0.5" textLength="43.5" lengthAdjust="spacingAndGlyphs">60.00</text>
<text x="1826.3" y="732" font-size="18.6" fill="#131722" stroke="#131722" stroke-width="0.5" textLength="43.5" lengthAdjust="spacingAndGlyphs">40.00</text>
<path d="M1813 44H1912V85a2 2 0 0 1-2 2H1813Z" fill="#089981"/>
<text x="1825.7" y="57.6" font-size="18" fill="#fff" font-weight="bold" textLength="79" lengthAdjust="spacingAndGlyphs">4,663.385</text>
<text x="1826.9" y="78.8" font-size="18.1" fill="#bfe4de" stroke="#bfe4de" stroke-width="0.7" textLength="66.7" lengthAdjust="spacingAndGlyphs">10:37:21</text>
<rect x="1818.5" y="0.5" width="95" height="37" rx="5" fill="#fff" stroke="#e4e4e6" stroke-width="1"/>
<text x="1824.2" y="24.7" font-size="18.2" fill="#131722" stroke="#131722" stroke-width="0.5" textLength="30.1" lengthAdjust="spacingAndGlyphs">USD</text>
<path d="M1899.2 17l4.1 3.8 4.1-3.8" fill="none" stroke="#131722" stroke-width="1.8"/>
<text x="136.8" y="806" font-size="18.2" fill="#131722" stroke="#131722" stroke-width="0.5" textLength="30.5" lengthAdjust="spacingAndGlyphs">May</text>
<text x="329.0" y="806" font-size="18.2" fill="#131722" stroke="#131722" stroke-width="0.5" textLength="27.4" lengthAdjust="spacingAndGlyphs">Jun</text>
<text x="513.4" y="806" font-size="18.2" fill="#131722" stroke="#131722" stroke-width="0.5" textLength="22.7" lengthAdjust="spacingAndGlyphs">Jul</text>
<text x="709.8" y="806" font-size="18.2" fill="#131722" stroke="#131722" stroke-width="0.5" textLength="28.9" lengthAdjust="spacingAndGlyphs">Aug</text>
<text x="892.0" y="806" font-size="18.2" fill="#131722" stroke="#131722" stroke-width="0.5" textLength="28.2" lengthAdjust="spacingAndGlyphs">Sep</text>
<text x="1082.7" y="806" font-size="18.2" fill="#131722" stroke="#131722" stroke-width="0.5" textLength="28.5" lengthAdjust="spacingAndGlyphs">Oct</text>
<text x="1281.6" y="806" font-size="18.2" fill="#131722" stroke="#131722" stroke-width="0.5" textLength="29.2" lengthAdjust="spacingAndGlyphs">Nov</text>
<text x="1455.0" y="806" font-size="18.2" fill="#131722" stroke="#131722" stroke-width="0.5" textLength="29.2" lengthAdjust="spacingAndGlyphs">Dec</text>
<text x="1640.1" y="806" font-size="18.2" fill="#131722" font-weight="bold" textLength="40.6" lengthAdjust="spacingAndGlyphs">2026</text>
<path d="M1856 799.7L1861 791H1871.4L1876.4 799.7L1871.4 808.4H1861Z" fill="none" stroke="#131722" stroke-width="1.5" stroke-linejoin="round"/>
<circle cx="1866.2" cy="799.7" r="3" fill="none" stroke="#131722" stroke-width="1.5"/>
<circle cx="26.6" cy="18.5" r="13.5" fill="#d49a04"/>
<g fill="#fff"><path d="M24.35 12.2H28.9L31.6 16.9H21.6Z"/><path d="M19.2 17.9H23.6L26.1 22.8H16.1Z"/><path d="M29.65 17.9H34L37.1 22.8H26.9Z"/></g>
<text x="46.8" y="26.6" font-size="23.3" fill="#131722" stroke="#131722" stroke-width="0.4" textLength="101.9" lengthAdjust="spacingAndGlyphs">Gold Spot</text>
<text x="178" y="26.6" font-size="23.3" fill="#131722" stroke="#131722" stroke-width="0.4" textLength="114.5" lengthAdjust="spacingAndGlyphs">U.S. Dollar</text>
<text x="313.1" y="26.6" font-size="23.3" fill="#131722" stroke="#131722" stroke-width="0.4" textLength="23.8" lengthAdjust="spacingAndGlyphs">1D</text>
<text x="356.9" y="26.6" font-size="23.3" fill="#131722" stroke="#131722" stroke-width="0.4" textLength="73.1" lengthAdjust="spacingAndGlyphs">OANDA</text>
<line x1="160.4" y1="28.6" x2="167.2" y2="9.8" stroke="#131722" stroke-width="1.9"/>
<circle cx="301.9" cy="20.6" r="1.9" fill="#131722"/><circle cx="347" cy="20.6" r="1.9" fill="#131722"/>
<path d="M473 5H456.35a13.35 13.35 0 0 0 0 26.7H473Z" fill="#089981" fill-opacity="0.15"/>
<path d="M473 5H489.65a13.35 13.35 0 0 1 0 26.7H473Z" fill="#f7417a" fill-opacity="0.18"/>
<circle cx="458.8" cy="18.2" r="6" fill="#089981"/>
<g fill="none" stroke="#e0245e" stroke-width="2.3" stroke-linecap="round"><path d="M480.4 16.6c2.2-2.6 4-2.6 6-1.2s3.6 1.4 5.6-1.4"/><path d="M480.4 22.8c2.2-2.6 4-2.6 6-1.2s3.6 1.4 5.6-1.4"/></g>
<text x="515.3" y="24.7" font-size="19.5" fill="#131722" stroke="#131722" stroke-width="0.5" textLength="11.4" lengthAdjust="spacingAndGlyphs">O</text>
<text x="529.2" y="24.7" font-size="19.5" fill="#089981" stroke="#089981" stroke-width="0.5" textLength="85.5" lengthAdjust="spacingAndGlyphs">4,649.780</text>
<text x="625.3" y="24.7" font-size="19.5" fill="#131722" stroke="#131722" stroke-width="0.5" textLength="11.4" lengthAdjust="spacingAndGlyphs">H</text>
<text x="638.8" y="24.7" font-size="19.5" fill="#089981" stroke="#089981" stroke-width="0.5" textLength="85.4" lengthAdjust="spacingAndGlyphs">4,690.940</text>
<text x="734.2" y="24.7" font-size="19.5" fill="#131722" stroke="#131722" stroke-width="0.5" textLength="8.7" lengthAdjust="spacingAndGlyphs">L</text>
<text x="745" y="24.7" font-size="19.5" fill="#089981" stroke="#089981" stroke-width="0.5" textLength="84.4" lengthAdjust="spacingAndGlyphs">4,646.135</text>
<text x="840.5" y="24.7" font-size="19.5" fill="#131722" stroke="#131722" stroke-width="0.5" textLength="10.4" lengthAdjust="spacingAndGlyphs">C</text>
<text x="853.4" y="24.7" font-size="19.5" fill="#089981" stroke="#089981" stroke-width="0.5" textLength="84.4" lengthAdjust="spacingAndGlyphs">4,663.385</text>
<text x="948.9" y="24.7" font-size="19.5" fill="#089981" stroke="#089981" stroke-width="0.5" textLength="66.7" lengthAdjust="spacingAndGlyphs">+67.065</text>
<text x="1024.7" y="24.7" font-size="19.5" fill="#089981" stroke="#089981" stroke-width="0.5" textLength="70.5" lengthAdjust="spacingAndGlyphs">(+1.46%)</text>
<rect x="12.5" y="42.5" width="116" height="50" rx="7" fill="#fff" stroke="#f23645" stroke-width="1"/>
<rect x="182.5" y="42.5" width="117" height="50" rx="7" fill="#fff" stroke="#2962ff" stroke-width="1"/>
<text x="28.6" y="62.8" font-size="17.6" fill="#f23645" font-weight="bold" textLength="75.7" lengthAdjust="spacingAndGlyphs">4,662.80</text>
<text x="105.1" y="60.6" font-size="14.6" fill="#f23645" font-weight="bold" textLength="7.9" lengthAdjust="spacingAndGlyphs">0</text>
<text x="53.2" y="82.7" font-size="16.4" fill="#f23645" stroke="#f23645" stroke-width="0.5" textLength="35.2" lengthAdjust="spacingAndGlyphs">SELL</text>
<text x="198.9" y="62.8" font-size="17.6" fill="#2962ff" font-weight="bold" textLength="76" lengthAdjust="spacingAndGlyphs">4,663.65</text>
<text x="275.7" y="60.6" font-size="14.6" fill="#2962ff" font-weight="bold" textLength="7.9" lengthAdjust="spacingAndGlyphs">0</text>
<text x="225.9" y="82.7" font-size="16.4" fill="#2962ff" stroke="#2962ff" stroke-width="0.5" textLength="29.8" lengthAdjust="spacingAndGlyphs">BUY</text>
<text x="141.6" y="72.6" font-size="16" fill="#131722" stroke="#131722" stroke-width="0.15" font-family="'Liberation Serif',serif" textLength="28.9" lengthAdjust="spacingAndGlyphs">85.0</text>
<text x="13.7" y="123.7" font-size="19.5" fill="#131722" stroke="#131722" stroke-width="0.5" textLength="35.1" lengthAdjust="spacingAndGlyphs">EMA</text>
<text x="54.3" y="123.7" font-size="19.5" fill="#5d606b" stroke="#5d606b" stroke-width="0.5" textLength="69.4" lengthAdjust="spacingAndGlyphs">50 close</text>
<circle cx="149.5" cy="117.1" r="13.4" fill="#5b2ef0" fill-opacity="0.16"/>
<g transform="translate(149.5 116.69999999999999)" fill="none" stroke="#5b2ef0" stroke-width="2"><path d="M-6.6 -2.4A7 7 0 0 1 6.9 -1.4"/><path d="M6.6 2.4A7 7 0 0 1 -6.9 1.4"/></g>
<g transform="translate(149.5 116.69999999999999)" fill="#5b2ef0"><path d="M4.2 -1.8L10.4 -3.2L8.1 1Z"/><path d="M-4.2 1.8L-10.4 3.2L-8.1 -1Z"/></g>
<text x="175.5" y="123.7" font-size="19.5" fill="#2962ff" stroke="#2962ff" stroke-width="0.5" textLength="85.2" lengthAdjust="spacingAndGlyphs">4,324.516</text>
<rect x="12.5" y="140.5" width="42" height="29" rx="4" fill="#fff" stroke="#dcdcde" stroke-width="1"/>
<path d="M27.3 158.3L33.2 152.6L39.1 158.3" fill="none" stroke="#131722" stroke-width="1.7"/>
<text x="13.7" y="577.8" font-size="19.5" fill="#131722" stroke="#131722" stroke-width="0.5" textLength="25" lengthAdjust="spacingAndGlyphs">RSI</text>
<text x="45.3" y="577.8" font-size="19.5" fill="#5d606b" stroke="#5d606b" stroke-width="0.5" textLength="68.9" lengthAdjust="spacingAndGlyphs">14 close</text>
<circle cx="140.3" cy="571.5" r="13.4" fill="#5b2ef0" fill-opacity="0.16"/>
<g transform="translate(140.3 571.1)" fill="none" stroke="#5b2ef0" stroke-width="2"><path d="M-6.6 -2.4A7 7 0 0 1 6.9 -1.4"/><path d="M6.6 2.4A7 7 0 0 1 -6.9 1.4"/></g>
<g transform="translate(140.3 571.1)" fill="#5b2ef0"><path d="M4.2 -1.8L10.4 -3.2L8.1 1Z"/><path d="M-4.2 1.8L-10.4 3.2L-8.1 -1Z"/></g>
<text x="165.5" y="577.8" font-size="19.5" fill="#7e57c2" stroke="#7e57c2" stroke-width="0.5" textLength="47.5" lengthAdjust="spacingAndGlyphs">71.17</text>
<text x="223" y="577.8" font-size="19.5" fill="#fdd835" stroke="#fdd835" stroke-width="0.5" textLength="47" lengthAdjust="spacingAndGlyphs">64.35</text>
<circle cx="1755.6" cy="525.5" r="14.6" fill="#fff" stroke="#9c27b0" stroke-width="2.3"/>
<path d="M1759.6 517.6L1748.4 526.6L1755 526L1750.6 533.6L1762.6 524.2L1756 524.8Z" fill="#9c27b0"/>
<circle cx="1765.6" cy="514.9" r="4.6" fill="#fff"/>
<circle cx="1765.6" cy="514.9" r="3.7" fill="#f23645"/>
<circle cx="1781.6" cy="525.5" r="15.3" fill="#fff" stroke="#f23645" stroke-width="2.3"/>
<clipPath id="fl"><circle cx="1781.6" cy="525.5" r="12.1"/></clipPath>
<g clip-path="url(#fl)"><rect x="1769" y="513" width="26" height="25" fill="#fafcff"/><rect x="1769" y="513.4" width="26" height="5" fill="#ef5350"/><rect x="1769" y="523" width="26" height="5" fill="#ef5350"/><rect x="1769" y="532.2" width="26" height="6" fill="#ef5350"/><rect x="1769" y="513" width="15" height="15" fill="#1e88e5"/><g fill="#fff"><circle cx="1773" cy="516.6" r="1"/><circle cx="1777" cy="516.6" r="1"/><circle cx="1781" cy="516.6" r="1"/><circle cx="1773" cy="520.8" r="1"/><circle cx="1777" cy="520.8" r="1"/><circle cx="1781" cy="520.8" r="1"/><circle cx="1773" cy="524.8" r="1"/><circle cx="1777" cy="524.8" r="1"/><circle cx="1781" cy="524.8" r="1"/></g></g>
<g fill="#fff" stroke="#fff" stroke-width="5.4" stroke-linejoin="round"><path d="M17.9 734.2H35.7V756.8H26.5V743.3H17.9Z"/><circle cx="43.2" cy="738.7" r="4.5"/><path d="M49.3 734.2H62.8L54 756.8H43.9Z"/><text x="73.7" y="756.8" font-size="32.4" font-weight="bold" textLength="181.3" lengthAdjust="spacingAndGlyphs">TradingView</text></g>
<g fill="#151515"><path d="M17.9 734.2H35.7V756.8H26.5V743.3H17.9Z"/><circle cx="43.2" cy="738.7" r="4.5"/><path d="M49.3 734.2H62.8L54 756.8H43.9Z"/><text x="73.7" y="756.8" font-size="32.4" font-weight="bold" textLength="181.3" lengthAdjust="spacingAndGlyphs">TradingView</text></g>
</svg>
</div></body></html>
